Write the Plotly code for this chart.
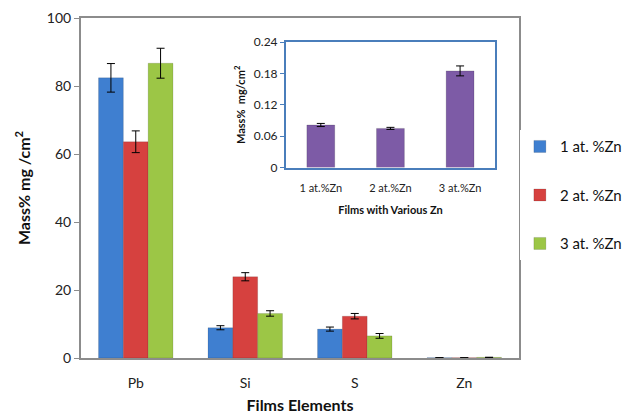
import plotly.graph_objects as go

# Main chart: mass % of each element for the three Zn-doped films
elements = ["Pb", "Si", "S", "Zn"]
series_names = ["1 at. %Zn", "2 at. %Zn", "3 at. %Zn"]
zn1 = [82.4, 8.9, 8.5, 0.08]
zn2 = [63.6, 23.9, 12.3, 0.075]
zn3 = [86.7, 13.1, 6.5, 0.185]
zn1_err = [4.2, 0.6, 0.6, 0.0]
zn2_err = [3.2, 1.2, 0.8, 0.0]
zn3_err = [4.4, 0.8, 0.7, 0.0]

# Inset: Zn content per film
films = ["1 at.%Zn", "2 at.%Zn", "3 at.%Zn"]
zn_mass = [0.0815, 0.075, 0.185]
zn_mass_err = [0.003, 0.002, 0.0095]

colors = ["#3f7fd0", "#d6413f", "#9cc646"]
inset_color = "#7d5ba6"
font_family = "Lato, Open Sans, sans-serif"

fig = go.Figure()

for i, (name, vals, errs) in enumerate(zip(series_names, [zn1, zn2, zn3],
                                           [zn1_err, zn2_err, zn3_err])):
    fig.add_trace(go.Bar(
        x=elements, y=vals, name=name,
        marker=dict(color=colors[i], line=dict(color="rgba(0,0,0,0.25)", width=0.5)),
        error_y=dict(type="data", array=errs, visible=True,
                     color="black", thickness=1, width=4),
        legendgroup=name,
        xaxis="x", yaxis="y",
    ))

fig.add_trace(go.Bar(
    x=films, y=zn_mass, showlegend=False,
    marker=dict(color=inset_color, line=dict(color="rgba(0,0,0,0.3)", width=0.5)),
    error_y=dict(type="data", array=zn_mass_err, visible=True,
                 color="black", thickness=1, width=4),
    xaxis="x2", yaxis="y2", width=0.4,
))

axis_gray = "#8c8c8c"

fig.update_layout(
    width=632, height=419,
    margin=dict(l=81, r=113, t=18, b=61, autoexpand=False),
    paper_bgcolor="white", plot_bgcolor="white",
    font=dict(family=font_family, color="#222222"),
    barmode="group", bargap=0.32, bargroupgap=0.0,
    showlegend=True,
    legend=dict(x=1.002, y=0.67, xanchor="left", yanchor="top",
                font=dict(size=15, color="#111111"),
                traceorder="grouped", tracegroupgap=26,
                itemwidth=30),
    xaxis=dict(
        domain=[0, 1], range=[-0.5, 3.5], automargin=False,
        showline=True, linecolor=axis_gray, linewidth=2, mirror=True,
        showgrid=False, ticks="", tickfont=dict(size=14, color="#222222"),
        ticklabelstandoff=11,
        title=dict(text="<b>Films Elements</b>", font=dict(size=16, color="#111111"),
                   standoff=10),
        anchor="y",
    ),
    yaxis=dict(
        domain=[0, 1], range=[0, 100], tickvals=[0, 20, 40, 60, 80, 100],
        automargin=False,
        showline=True, linecolor=axis_gray, linewidth=2, mirror=True,
        showgrid=False, zeroline=False,
        ticks="outside", ticklen=5, tickcolor=axis_gray, tickwidth=1,
        tickfont=dict(size=14, color="#222222"),
        title=dict(text="<b>Mass% mg /cm<sup>2</sup></b>",
                   font=dict(size=16, color="#111111"), standoff=12),
        anchor="x",
    ),
    xaxis2=dict(
        domain=[0.468, 0.945], anchor="y2", automargin=False,
        showline=True, linecolor="#4a7ebb", linewidth=2, mirror=True,
        showgrid=False, ticks="", tickfont=dict(size=11, color="#222222"),
        ticklabelstandoff=9,
        title=dict(text="<b>Films with Various Zn</b>",
                   font=dict(size=11, color="#111111"), standoff=14),
    ),
    yaxis2=dict(
        domain=[0.56, 0.929], anchor="x2", range=[0, 0.24], automargin=False,
        tickvals=[0, 0.06, 0.12, 0.18, 0.24],
        ticktext=["0", "0.06", "0.12", "0.18", "0.24"],
        showline=True, linecolor="#4a7ebb", linewidth=2, mirror=True,
        showgrid=False, zeroline=False,
        ticks="outside", ticklen=4, tickcolor="#4a7ebb",
        tickfont=dict(size=12, color="#222222"),
        title=dict(text="<b>Mass%  mg/cm<sup>2</sup></b>",
                   font=dict(size=11, color="#111111"), standoff=6),
    ),
)

fig.write_html("out.html")
